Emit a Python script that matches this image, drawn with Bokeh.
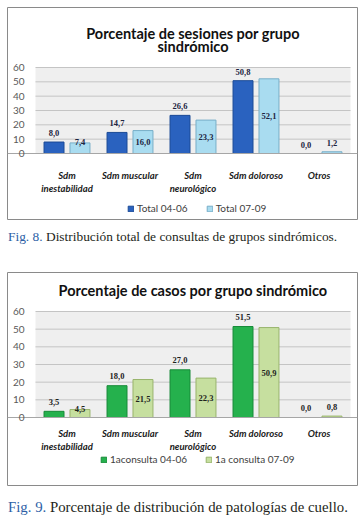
from bokeh.plotting import figure
from bokeh.models import (ColumnDataSource, Range1d, FixedTicker, LabelSet, Label,
                          Legend, LegendItem, Div)
from bokeh.layouts import column
from bokeh.embed import file_html
from bokeh.resources import INLINE

# ---- data ----
categories = ["Sdm\ninestabilidad", "Sdm muscular", "Sdm\nneurológico", "Sdm doloroso", "Otros"]
sesiones_04_06 = [8.0, 14.7, 26.6, 50.8, 0.0]
sesiones_07_09 = [7.4, 16.0, 23.3, 52.1, 1.2]
casos_04_06 = [3.5, 18.0, 27.0, 51.5, 0.0]
casos_07_09 = [4.5, 21.5, 22.3, 50.9, 0.8]
y_ticks = [0, 10, 20, 30, 40, 50, 60]
legend_1 = ["Total 04-06", "Total 07-09"]
legend_2 = ["1aconsulta 04-06", "1a consulta 07-09"]
title_1 = ["Porcentaje de sesiones por grupo", "sindrómico"]
title_2 = ["Porcentaje de casos por grupo sindrómico"]
caption_1 = ("Fig. 8.", "Distribución total de consultas de grupos sindrómicos.")
caption_2 = ("Fig. 9.", "Porcentaje de distribución de patologías de cuello.")

FONT = "Lato"
W = 358          # figure width (box drawn from x=7 to x=357)
BOX_LEFT = 7     # left edge of the chart box
PLOT_L, PLOT_R = 35, 350   # pixel extent of the category area


def fmt(v):
    return f"{v:.1f}".replace(".", ",")


def make_chart(s1, s2, names, titles, colors, height, frame_top, p60, p0,
               title_offsets, label_std, legend_loc, label_color, off1):
    """p60 / p0: pixel rows (from figure top) of the 60 and 0 gridlines."""
    n = len(categories)
    idx = list(range(n))
    vmax = y_ticks[-1]
    kx = (PLOT_R - PLOT_L) / n
    x0 = -0.5 - (PLOT_L - BOX_LEFT) / kx
    x1 = n - 0.5 + (W - 1 - PLOT_R) / kx
    ky = (p0 - p60) / vmax
    frame_bot = height - 1
    y1 = vmax + (p60 - frame_top) / ky
    y0 = -(frame_bot - p0) / ky

    p = figure(width=W, height=height, x_range=Range1d(x0, x1), y_range=Range1d(y0, y1),
               output_backend="svg", toolbar_location=None, title=None,
               min_border_left=BOX_LEFT, min_border_right=1,
               min_border_top=frame_top, min_border_bottom=1)
    p.background_fill_color = "white"
    p.border_fill_color = "white"
    p.outline_line_color = "#8a8a8a"
    p.outline_line_width = 1

    # grey plot area and gridlines
    p.quad(left=-0.5, right=n - 0.5, bottom=0, top=vmax,
           fill_color="#efefef", line_color=None)
    p.segment(x0=[-0.5] * (len(y_ticks) - 1), x1=[n - 0.5] * (len(y_ticks) - 1),
              y0=y_ticks[1:], y1=y_ticks[1:], line_color="#c4c4c4", line_width=1)
    p.xgrid.visible = False
    p.ygrid.visible = False

    src = ColumnDataSource(dict(
        x1=[i - 0.206 for i in idx], x2=[i + 0.206 for i in idx],
        v1=s1, v2=s2,
        t1=[fmt(v) for v in s1], t2=[fmt(v) for v in s2],
        y2=[v / 2 if v >= 10 else v for v in s2],
        o2=[0 if v >= 10 else (1 if v >= 3 else off1) for v in s2],
    ))
    r1 = p.vbar(x="x1", top="v1", bottom=0, width=0.317, source=src,
                fill_color=colors[0], line_color=colors[1], line_width=1)
    r2 = p.vbar(x="x2", top="v2", bottom=0, width=0.317, source=src,
                fill_color=colors[2], line_color=colors[3], line_width=1)

    common = dict(text_font=FONT, text_font_style="bold", text_font_size="8.5px",
                  text_color=label_color, text_align="center", text_baseline="middle")
    p.add_layout(LabelSet(x="x1", y="v1", text="t1", y_offset=off1, source=src, **common))
    p.add_layout(LabelSet(x="x2", y="y2", text="t2", y_offset="o2", source=src, **common))

    for line, off in zip(titles, title_offsets):
        p.add_layout(Label(x=(n - 1) / 2, y=vmax, y_offset=off, text=line,
                           text_align="center", text_baseline="middle",
                           text_font=FONT, text_font_style="bold",
                           text_font_size="14.5px", text_color="#111111"))

    # axes drawn inside the frame
    p.yaxis.fixed_location = -0.5
    p.yaxis.ticker = FixedTicker(ticks=y_ticks)
    p.yaxis.axis_line_color = None
    p.yaxis.major_tick_line_color = None
    p.yaxis.minor_tick_line_color = None
    p.yaxis.major_label_standoff = 5
    p.yaxis.major_label_text_font = FONT
    p.yaxis.major_label_text_font_size = "10px"
    p.yaxis.major_label_text_color = "#595959"

    p.xaxis.fixed_location = 0
    p.xaxis.ticker = FixedTicker(ticks=idx)
    p.xaxis.major_label_overrides = {i: c for i, c in zip(idx, categories)}
    p.xaxis.axis_line_color = "#a6a6a6"
    p.xaxis.major_tick_line_color = None
    p.xaxis.minor_tick_line_color = None
    p.xaxis.major_label_standoff = label_std
    p.xaxis.major_label_text_font = FONT
    p.xaxis.major_label_text_font_style = "bold italic"
    p.xaxis.major_label_text_font_size = "9.5px"
    p.xaxis.major_label_text_color = "#1a1a1a"

    legend = Legend(items=[LegendItem(label=names[0], renderers=[r1]),
                           LegendItem(label=names[1], renderers=[r2])],
                    location=legend_loc, orientation="horizontal",
                    glyph_width=7, glyph_height=7, label_height=12,
                    label_standoff=3, spacing=18, padding=0, margin=0,
                    border_line_color=None, background_fill_alpha=0,
                    label_text_font=FONT, label_text_font_size="10px",
                    label_text_color="#404040")
    p.add_layout(legend)
    return p


def caption(parts, height, pad, size):
    html = (f'<div style="padding-top:{pad}px; line-height:16px; white-space:nowrap; '
            f'margin-left:8px; font-family:\'Liberation Serif\'; font-size:{size}px; '
            f'color:#231f20;"><span style="color:#2d5fa6">{parts[0]}</span> {parts[1]}</div>')
    return Div(text=html, width=W, height=height, margin=0)


fig1 = make_chart(sesiones_04_06, sesiones_07_09, legend_1, title_1,
                  ["#2a62bf", "#1b4a96", "#a9dcf0", "#78aec8"],
                  220, 7, 67, 153, [34, 21], 10, (120, 5), "#1c2440", 9)
fig2 = make_chart(casos_04_06, casos_07_09, legend_2, title_2,
                  ["#25b14d", "#178a38", "#c6df9f", "#98b46c"],
                  215, 1, 40, 146, [21], 4, (93, 20), "#1e241e", 9.5)

layout = column(fig1, caption(caption_1, 51, 9, 13.4),
                fig2, caption(caption_2, 29, 13, 14.8), spacing=0)

open("out.html", "w").write(file_html(layout, INLINE))
